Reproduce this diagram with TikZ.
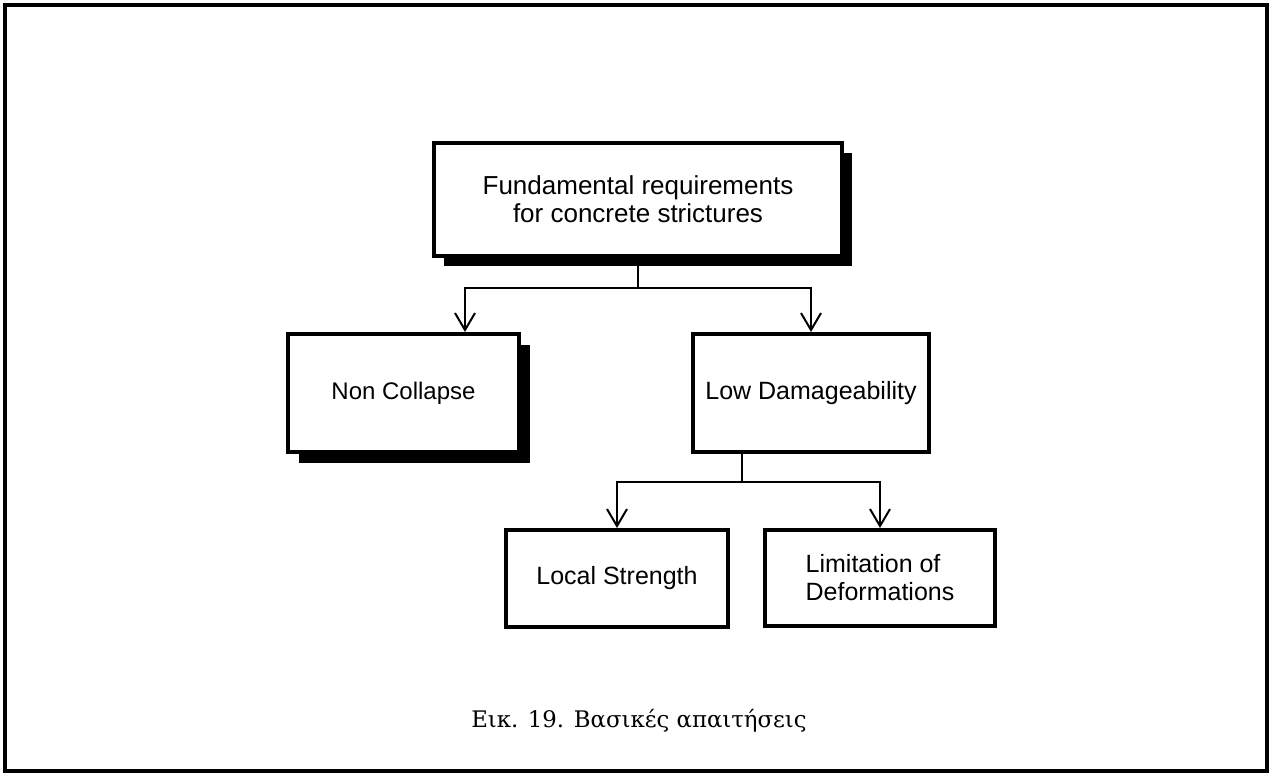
\documentclass[tikz,border=0pt]{standalone}
\usepackage{fontspec}
\setmainfont{Liberation Sans}
\newfontfamily\capfont{DejaVu Serif}
\usetikzlibrary{arrows.meta,shadows}
\begin{document}
\begin{tikzpicture}[x=1pt,y=-1pt,
  box/.style={draw, line width=4pt, fill=white, inner sep=0pt,
    font=\fontsize{25}{28}\selectfont, align=center},
  shadowed/.style={drop shadow={shadow xshift=#1, shadow yshift=-#1,
    opacity=1, fill=black}},
  link/.style={line width=2pt},
  arr/.style={link, -{Straight Barb[length=17pt,width=20pt]}}]
\useasboundingbox (0,0) rectangle (1271,775);
% outer frame
\draw[line width=4pt] (5,5) rectangle (1267,771);

% boxes
\node[box, shadowed=10pt, minimum width=408pt, minimum height=113pt,
  font=\fontsize{26}{28}\selectfont] (top) at (638,199.5)
  {Fundamental requirements\\for concrete strictures};
\node[box, shadowed=11pt, minimum width=231pt, minimum height=118pt,
  font=\fontsize{24}{28}\selectfont] (nc) at (403.5,393)
  {Non Collapse};
\node[box, minimum width=236pt, minimum height=118pt] (ld) at (811,393)
  {Low Damageability};
\node[box, minimum width=222pt, minimum height=97pt] (ls) at (617,578.5)
  {Local Strength};
\node[box, minimum width=230pt, minimum height=96pt, align=left] (lod) at (880,578)
  {Limitation of\\Deformations};

% connectors
\coordinate (j1) at (638,288);
\coordinate (a1) at (465,288);
\coordinate (j2) at (742,482);
\draw[link] (top.south) -- (j1);
\draw[arr] (j1) -- (a1) -- (a1 |- nc.north);
\draw[arr] (j1) -| (ld.north);
\draw[link] (j2 |- ld.south) -- (j2);
\draw[arr] (j2) -| (ls.north);
\draw[arr] (j2) -| (lod.north);

% caption
\node[font=\capfont\fontsize{22.8}{26}\selectfont, anchor=base] (cap) at (639,727)
  {Εικ. 19. Βασικές απαιτήσεις};
\end{tikzpicture}
\end{document}
